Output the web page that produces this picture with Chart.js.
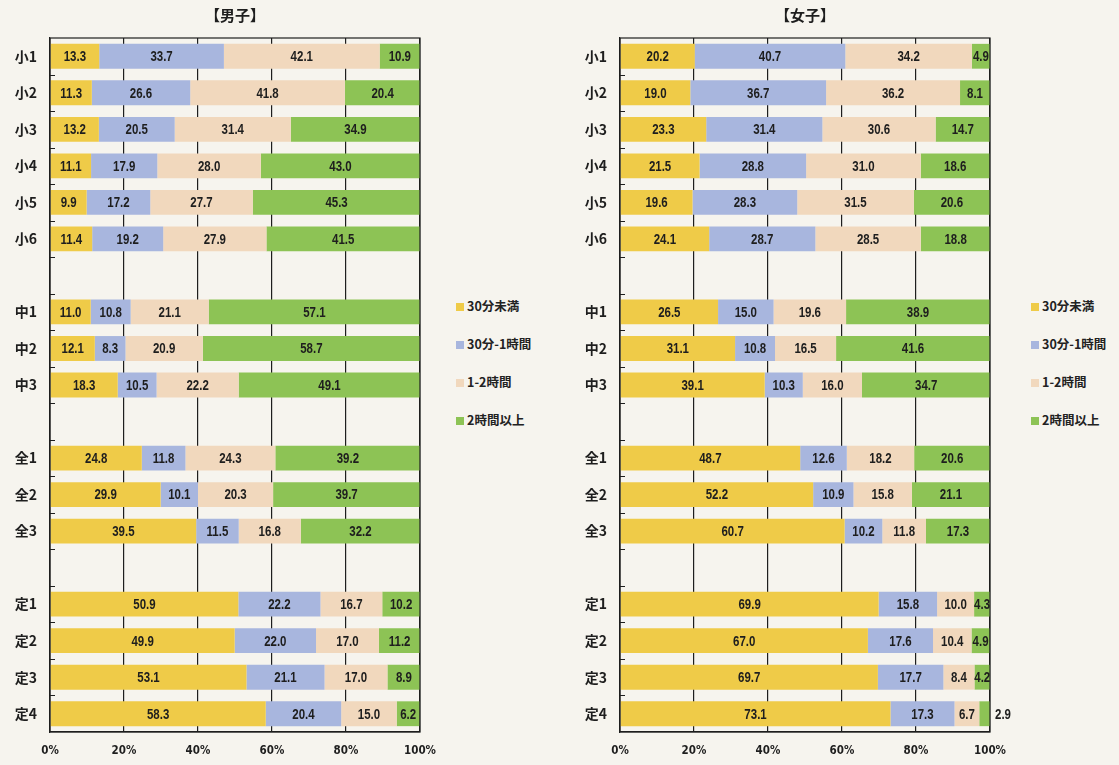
<!DOCTYPE html>
<html lang="ja">
<head>
<meta charset="utf-8">
<title>男子・女子</title>
<script src="https://cdn.jsdelivr.net/npm/chart.js@4.4.1/dist/chart.umd.min.js"></script>
<style>
  html, body { margin: 0; padding: 0; }
  body { width: 1119px; height: 765px; background: #f6f4ee; position: relative; overflow: hidden;
         font-family: "Noto Sans CJK JP", sans-serif; }
  canvas { position: absolute; top: 0; }
  #boysChart { left: 0; }
  #girlsChart { left: 570px; }
  .legend { position: absolute; top: 296px; font-weight: bold; font-size: 12.5px; color: #222; }
  .legend div { height: 19px; line-height: 19px; margin-bottom: 19px; white-space: nowrap; }
  .legend span { display: inline-block; width: 8px; height: 8px; margin-right: 3px; vertical-align: 0px; }
</style>
</head>
<body>
<canvas id="boysChart" width="450" height="765"></canvas>
<canvas id="girlsChart" width="450" height="765"></canvas>
<div class="legend" id="boysLegend" style="left:456px"></div>
<div class="legend" id="girlsLegend" style="left:1031px"></div>
<script>
// row labels ("" = spacer row between groups)
const categories = ["小1", "小2", "小3", "小4", "小5", "小6", "",
                    "中1", "中2", "中3", "",
                    "全1", "全2", "全3", "",
                    "定1", "定2", "定3", "定4"];
const seriesNames = ["30分未満", "30分-1時間", "1-2時間", "2時間以上"];
const seriesColors = ["#efcb48", "#a8b6de", "#f1d8bd", "#8dc355"];
const xTicks = [0, 20, 40, 60, 80, 100];

// 男子
const boysUnder30 = [13.3, 11.3, 13.2, 11.1, 9.9, 11.4, null, 11.0, 12.1, 18.3, null, 24.8, 29.9, 39.5, null, 50.9, 49.9, 53.1, 58.3];
const boys30to60  = [33.7, 26.6, 20.5, 17.9, 17.2, 19.2, null, 10.8, 8.3, 10.5, null, 11.8, 10.1, 11.5, null, 22.2, 22.0, 21.1, 20.4];
const boys1to2h   = [42.1, 41.8, 31.4, 28.0, 27.7, 27.9, null, 21.1, 20.9, 22.2, null, 24.3, 20.3, 16.8, null, 16.7, 17.0, 17.0, 15.0];
const boysOver2h  = [10.9, 20.4, 34.9, 43.0, 45.3, 41.5, null, 57.1, 58.7, 49.1, null, 39.2, 39.7, 32.2, null, 10.2, 11.2, 8.9, 6.2];

// 女子
const girlsUnder30 = [20.2, 19.0, 23.3, 21.5, 19.6, 24.1, null, 26.5, 31.1, 39.1, null, 48.7, 52.2, 60.7, null, 69.9, 67.0, 69.7, 73.1];
const girls30to60  = [40.7, 36.7, 31.4, 28.8, 28.3, 28.7, null, 15.0, 10.8, 10.3, null, 12.6, 10.9, 10.2, null, 15.8, 17.6, 17.7, 17.3];
const girls1to2h   = [34.2, 36.2, 30.6, 31.0, 31.5, 28.5, null, 19.6, 16.5, 16.0, null, 18.2, 15.8, 11.8, null, 10.0, 10.4, 8.4, 6.7];
const girlsOver2h  = [4.9, 8.1, 14.7, 18.6, 20.6, 18.8, null, 38.9, 41.6, 34.7, null, 20.6, 21.1, 17.3, null, 4.3, 4.9, 4.2, 2.9];

const ink = "#1e1e1e";
const numFont = "'Liberation Sans', Arial, sans-serif";

// box around plot + small inward ticks on the left axis at row boundaries
const frame = {
  id: "frame",
  afterDraw(chart) {
    const { ctx, chartArea: a, scales: { y } } = chart;
    ctx.save();
    ctx.strokeStyle = ink;
    ctx.lineWidth = 1.2;
    ctx.strokeRect(a.left, a.top, a.right - a.left, a.bottom - a.top);
    const half = (y.getPixelForValue(1) - y.getPixelForValue(0)) / 2;
    ctx.beginPath();
    for (let i = 0; i < categories.length - 1; i++) {
      const py = Math.round(y.getPixelForValue(i) + half) + 0.5;
      ctx.moveTo(a.left, py);
      ctx.lineTo(a.left + 5, py);
    }
    ctx.stroke();
    ctx.restore();
  }
};

// value labels inside each segment (narrowed like the printed digits)
const valueLabels = {
  id: "valueLabels",
  afterDatasetsDraw(chart) {
    const ctx = chart.ctx;
    chart.data.datasets.forEach((ds, di) => {
      chart.getDatasetMeta(di).data.forEach((el, i) => {
        const v = ds.data[i];
        if (v == null) return;
        const w = Math.abs(el.x - el.base);
        const outside = w < 12;
        ctx.save();
        ctx.font = "bold 14px " + numFont;
        ctx.fillStyle = ink;
        ctx.textBaseline = "middle";
        ctx.textAlign = outside ? "left" : "center";
        ctx.translate(outside ? el.x + 5 : (el.x + el.base) / 2, el.y + 1);
        ctx.scale(0.82, 1);
        ctx.fillText(v.toFixed(1), 0, 0);
        ctx.restore();
      });
    });
  }
};

function makeChart(canvasId, title, series) {
  const ctx = document.getElementById(canvasId).getContext("2d");
  return new Chart(ctx, {
    type: "bar",
    data: {
      labels: categories,
      datasets: series.map((d, i) => ({
        label: seriesNames[i],
        data: d,
        backgroundColor: seriesColors[i],
        borderWidth: 0,
        barPercentage: 0.68,
        categoryPercentage: 1,
      })),
    },
    options: {
      indexAxis: "y",
      responsive: false,
      animation: false,
      devicePixelRatio: 1,
      layout: { padding: { right: 30, left: 0, top: 0, bottom: 0 } },
      plugins: {
        legend: { display: false },
        tooltip: { enabled: false },
        title: {
          display: true,
          text: title,
          fullSize: false,
          color: ink,
          font: { family: "'Noto Sans CJK JP'", size: 15, weight: "bold" },
          padding: { top: 6, bottom: 14 },
        },
      },
      scales: {
        x: {
          stacked: true,
          min: 0,
          max: 100,
          afterBuildTicks(scale) {
            scale.ticks = xTicks.map(v => ({ value: v }));
          },
          afterFit(scale) { scale.height = 33; },
          grid: { color: ink, lineWidth: 1.2, drawTicks: false },
          border: { color: ink, width: 1.2 },
          ticks: {
            padding: 12,
            color: ink,
            font: { family: "'DejaVu Sans Condensed', sans-serif", size: 11.5, weight: "bold" },
            callback: v => v + "%",
          },
        },
        y: {
          stacked: true,
          afterFit(scale) { scale.width = 50; },
          grid: { display: false, drawTicks: false },
          border: { color: ink, width: 1.2 },
          ticks: {
            padding: 13,
            color: ink,
            font: { family: "'Noto Sans CJK JP'", size: 14, weight: "bold" },
          },
        },
      },
    },
    plugins: [frame, valueLabels],
  });
}

makeChart("boysChart", "【男子】", [boysUnder30, boys30to60, boys1to2h, boysOver2h]);
makeChart("girlsChart", "【女子】", [girlsUnder30, girls30to60, girls1to2h, girlsOver2h]);

function buildLegend(id) {
  const box = document.getElementById(id);
  seriesNames.forEach((name, i) => {
    const row = document.createElement("div");
    const sw = document.createElement("span");
    sw.style.background = seriesColors[i];
    row.appendChild(sw);
    row.appendChild(document.createTextNode(name));
    box.appendChild(row);
  });
}
buildLegend("boysLegend");
buildLegend("girlsLegend");
</script>
</body>
</html>
